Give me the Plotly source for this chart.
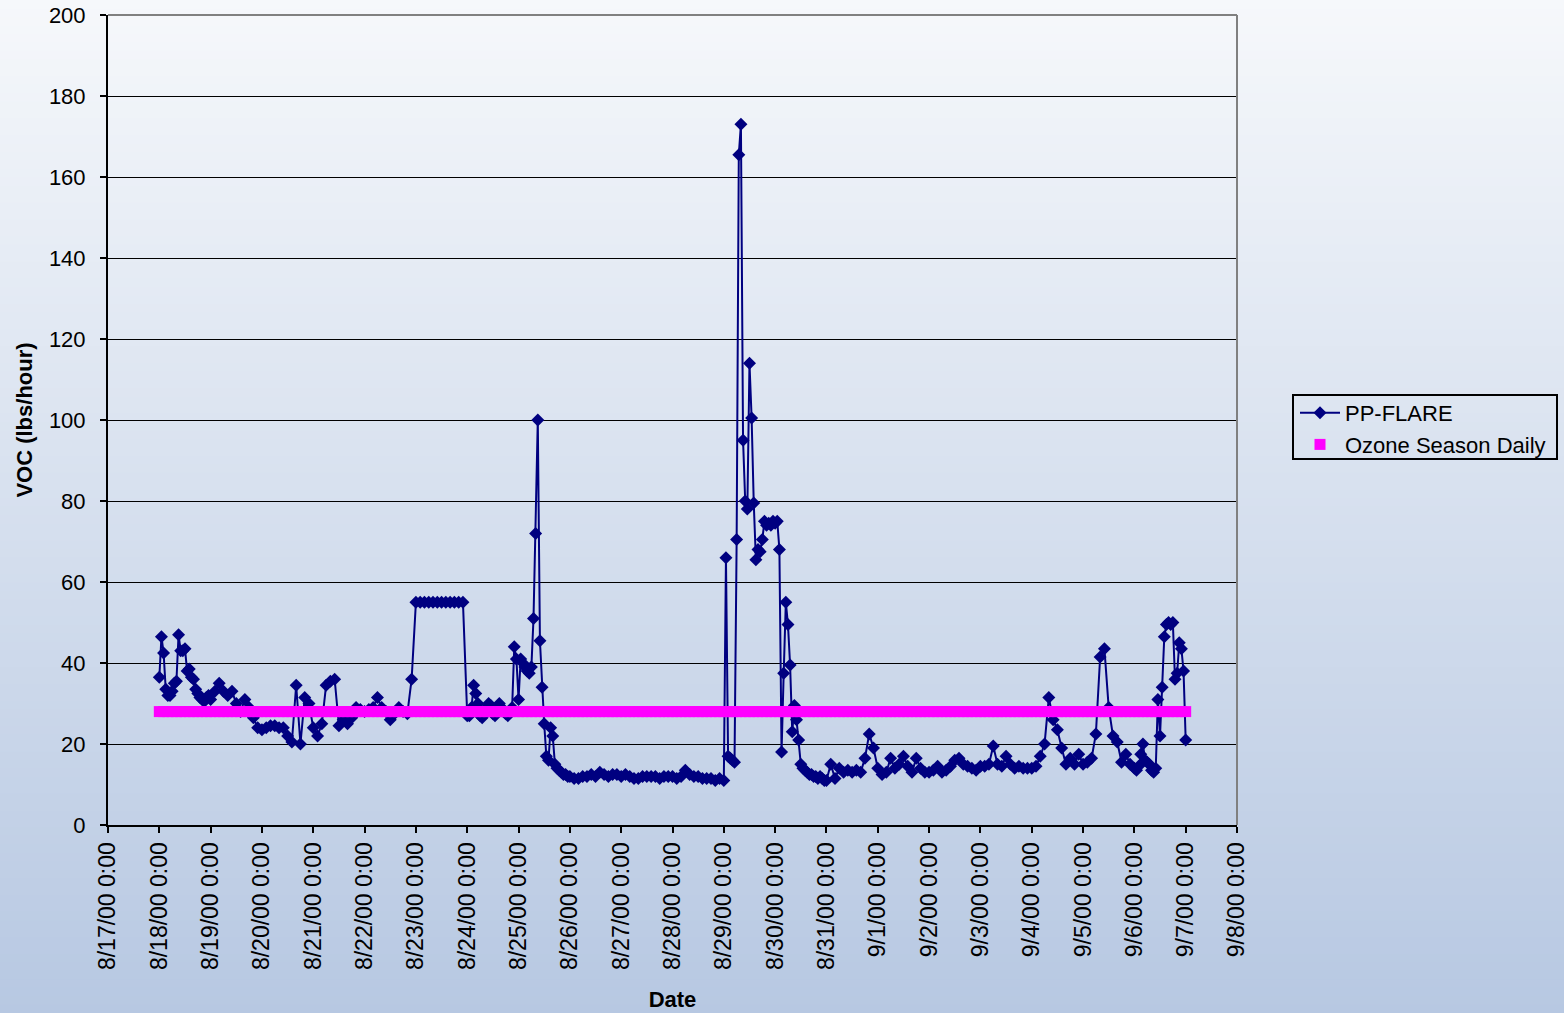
import plotly.graph_objects as go
import pandas as pd

# ---------------- data ----------------
# PP-FLARE VOC (lbs/hour); each list covers one day, values evenly spaced over the day
aug18 = [36.5, 46.5, 42.5, 33.5, 32, 32, 33, 35, 35.5, 47, 43, 43,
         43.5, 38, 38.5, 36.5, 36, 33.5, 32.5, 31.5, 31, 30.5, 31.5, 32]
aug19 = [31, 33, 35, 33, 32, 33, 30, 28, 31, 29, 26.5, 24]
aug20 = [23.5, 24, 24.5, 24.5, 24, 24, 22, 20.5, 34.5, 20, 31.5, 30]
aug21 = [24, 22, 25, 34.5, 35.5, 36, 24.5, 26, 25, 26.5, 29, 28.5]
aug22 = [28, 28.5, 29, 31.5, 29, 28, 26, 27.5, 29, 28, 27.5, 36]
aug23 = [55, 55, 55, 55, 55, 55, 55, 55, 55, 55, 55, 55]
aug24 = [27, 27, 29, 34.5, 32.5, 30, 27, 26.5, 28, 29, 30, 29.5,
         27.5, 27, 28.5, 30, 29, 28, 27.5, 27, 28, 29, 44, 41]
aug25 = [31, 41, 40, 39, 38, 37.5, 39, 51, 72, 100, 45.5, 34,
         25, 17, 16, 24, 22, 15, 14, 13.5, 13, 12.5, 12.5, 12]
aug26 = [12, 11.5, 11.5, 12, 12, 12.5, 12, 13, 12.5, 12, 12.5, 12.5]
aug27 = [12, 12.5, 12, 11.5, 11.5, 12, 12, 12, 12, 11.5, 12, 12]
aug28 = [12, 11.5, 12, 13.5, 12.5, 12, 12, 11.5, 11.5, 11.5, 11, 11.5]
aug29 = [11, 66, 17, 16.5, 16, 15.5, 70.5, 165.5, 173, 95, 80, 78,
         114, 100.5, 79.5, 65.5, 68, 67.5, 70.5, 75, 74, 74.5, 74, 75]
aug30 = [74.5, 75, 68, 18, 37.5, 55, 49.5, 39.5, 23, 29.5, 26, 21,
         15, 14, 13.5, 13, 12.5, 12.5, 12, 12, 11.5, 12, 11.5, 11]
aug31 = [11, 15, 11.5, 14, 13, 13.5, 13, 13.5, 13, 16.5, 22.5, 19]
sep01 = [14, 12.5, 13, 16.5, 14, 15, 17, 14.5, 13, 16.5, 14, 13]
sep02 = [13, 13.5, 14.5, 13, 13.5, 14.5, 16, 16.5, 15, 14.5, 14, 13.5]
sep03 = [14.5, 14.5, 15, 19.5, 15, 14.5, 17, 15, 14, 14.5, 14, 14]
sep04 = [14, 14.5, 17, 20, 31.5, 26, 23.5, 19, 15, 16.5, 15, 17.5]
sep05 = [15, 15.5, 16.5, 22.5, 41.5, 43.5, 29, 22, 20.5, 15.5, 17.5, 15]
sep06 = [14, 13.5, 14.5, 17.5, 20, 16, 15.5, 15, 13.5, 13, 14, 31,
         22, 34, 46.5, 49.5, 50, 49.5, 50, 36, 37.5, 45, 43.5, 38]
sep07 = [21]

day_starts = ["2000-08-18", "2000-08-19", "2000-08-20", "2000-08-21", "2000-08-22",
              "2000-08-23", "2000-08-24", "2000-08-25", "2000-08-26", "2000-08-27",
              "2000-08-28", "2000-08-29", "2000-08-30", "2000-08-31", "2000-09-01",
              "2000-09-02", "2000-09-03", "2000-09-04", "2000-09-05", "2000-09-06",
              "2000-09-07"]
day_values = [aug18, aug19, aug20, aug21, aug22, aug23, aug24, aug25, aug26, aug27,
              aug28, aug29, aug30, aug31, sep01, sep02, sep03, sep04, sep05, sep06,
              sep07]

# Ozone Season Daily level (lbs/hour)
ozone_level = 28
ozone_start = "2000-08-18"
ozone_end = "2000-09-07"

y_ticks = [0, 20, 40, 60, 80, 100, 120, 140, 160, 180, 200]

# ---------------- build series ----------------
flare_x, flare_y = [], []
for start, vals in zip(day_starts, day_values):
    n = len(vals)
    for i, v in enumerate(vals):
        flare_x.append(pd.Timestamp(start) + pd.Timedelta(hours=24.0 * i / n))
        flare_y.append(v)

ozone_x = list(pd.date_range(ozone_start, ozone_end, freq="2h"))
ozone_y = [ozone_level] * len(ozone_x)

FONT = "Liberation Sans, Arial, sans-serif"

fig = go.Figure()
fig.add_trace(go.Scatter(
    x=flare_x, y=flare_y, name="PP-FLARE", mode="lines+markers",
    line=dict(color="#000080", width=2),
    marker=dict(symbol="diamond", size=10, color="#000080"),
))
fig.add_trace(go.Scatter(
    x=ozone_x, y=ozone_y, name="Ozone Season Daily", mode="markers",
    marker=dict(symbol="square", size=11, color="#FF00FF", line=dict(width=0)),
))

# ---------------- background gradient (figure-wide) ----------------
W, H = 1564, 1013
L, R, T, B = 108, 327, 15, 188
pw, ph = W - L - R, H - T - B


def px_x(p):
    return (p - L) / pw


def px_y(p):
    return (H - B - p) / ph


top_rgb = (246, 248, 251)
bot_rgb = (183, 200, 226)
n_strips = 120
shapes = []
for k in range(n_strips):
    p0 = H * k / n_strips
    p1 = H * (k + 1) / n_strips + 1
    f = (p0 + p1) / 2 / H
    c = tuple(round(top_rgb[j] + (bot_rgb[j] - top_rgb[j]) * f) for j in range(3))
    shapes.append(dict(
        type="rect", xref="paper", yref="paper", layer="below",
        x0=px_x(0) - 0.01, x1=px_x(W) + 0.01,
        y0=px_y(p1), y1=px_y(p0),
        fillcolor="rgb(%d,%d,%d)" % c, line=dict(width=0),
    ))
# grey plot-area border (top & right)
shapes.append(dict(type="line", xref="paper", yref="paper", x0=0, x1=1, y0=1, y1=1,
                   line=dict(color="#808080", width=2), layer="above"))
shapes.append(dict(type="line", xref="paper", yref="paper", x0=1, x1=1, y0=0, y1=1,
                   line=dict(color="#808080", width=2), layer="above"))
# legend frame
shapes.append(dict(type="rect", xref="paper", yref="paper",
                   x0=px_x(1293), x1=px_x(1557), y0=px_y(459), y1=px_y(395),
                   line=dict(color="black", width=2), fillcolor="rgba(0,0,0,0)",
                   layer="above"))

fig.update_layout(
    template="none",
    width=W, height=H,
    margin=dict(l=L, r=R, t=T, b=B, pad=0),
    paper_bgcolor="#DCE3EE",
    plot_bgcolor="rgba(0,0,0,0)",
    font=dict(family=FONT, size=22, color="black"),
    shapes=shapes,
    showlegend=True,
    legend=dict(
        x=px_x(1295), y=px_y(392), xanchor="left", yanchor="top",
        bgcolor="rgba(0,0,0,0)", borderwidth=0,
        font=dict(family=FONT, size=22, color="black"),
        itemwidth=40, tracegroupgap=0,
    ),
    xaxis=dict(
        type="date",
        range=["2000-08-17", "2000-09-08"],
        tick0="2000-08-17", dtick=86400000,
        tickformat="%-m/%-d/%y %-H:%M",
        tickangle=-90,
        ticks="outside", ticklen=6, tickwidth=2, tickcolor="black",
        showline=True, linecolor="black", linewidth=2,
        showgrid=False, zeroline=False,
        tickfont=dict(family=FONT, size=23, color="black"),
        title=dict(text="<b>Date</b>", font=dict(family=FONT, size=22), standoff=22),
        automargin=False,
    ),
    yaxis=dict(
        range=[0, 200], tickvals=y_ticks,
        ticks="outside", ticklen=6, tickwidth=2, tickcolor="black",
        showline=True, linecolor="black", linewidth=2,
        showgrid=True, gridcolor="black", gridwidth=1.3,
        zeroline=False,
        tickfont=dict(family=FONT, size=22, color="black"),
        ticklabelstandoff=10,
        title=dict(text="<b>VOC (lbs/hour)</b>", font=dict(family=FONT, size=22), standoff=10),
        automargin=False,
    ),
)

fig.write_html(
    "out.html",
    config={"displayModeBar": False},
    post_script="document.body.style.margin='0';document.body.style.padding='0';"
                "document.body.style.overflow='hidden';"
                "document.documentElement.style.overflow='hidden';",
)
